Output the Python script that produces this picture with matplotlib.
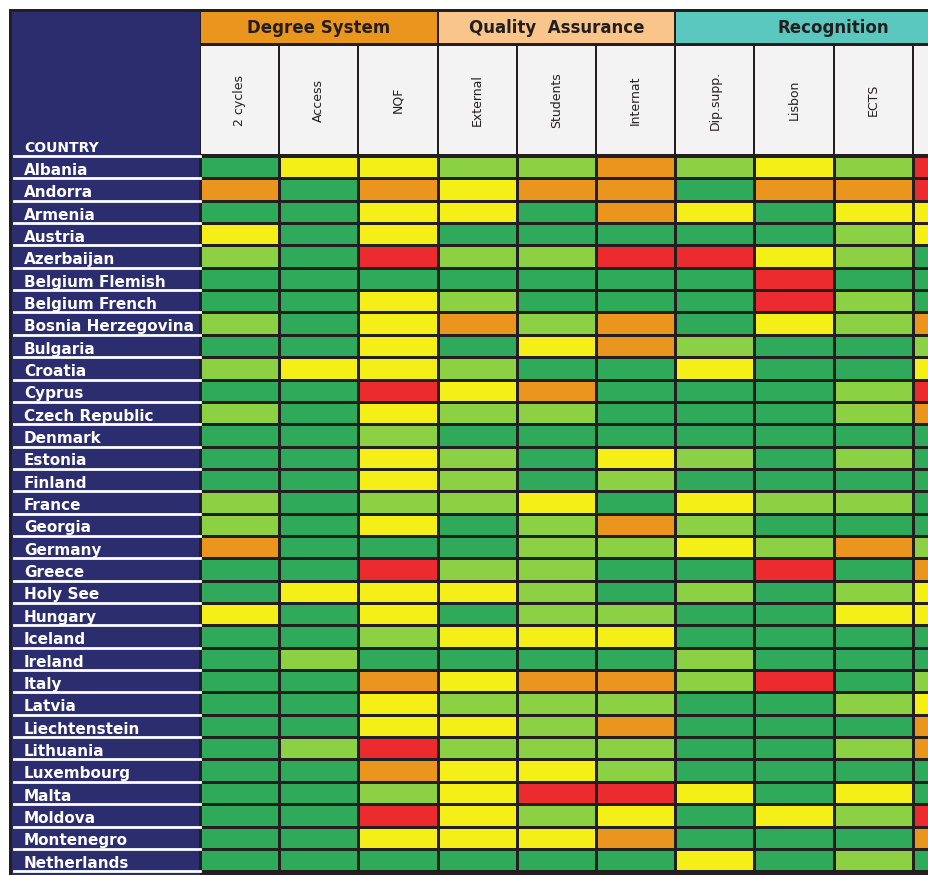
import numpy as np
import matplotlib.pyplot as plt
from matplotlib.colors import ListedColormap
from matplotlib.patches import Rectangle

# 1 dark green, 2 light green, 3 yellow, 4 orange, 5 red
countries = ["Albania", "Andorra", "Armenia", "Austria", "Azerbaijan", "Belgium Flemish",
             "Belgium French", "Bosnia Herzegovina", "Bulgaria", "Croatia", "Cyprus",
             "Czech Republic", "Denmark", "Estonia", "Finland", "France", "Georgia",
             "Germany", "Greece", "Holy See", "Hungary", "Iceland", "Ireland", "Italy",
             "Latvia", "Liechtenstein", "Lithuania", "Luxembourg", "Malta", "Moldova",
             "Montenegro", "Netherlands"]
columns = ["2 cycles", "Access", "NQF", "External", "Students", "Internat",
           "Dip.supp.", "Lisbon", "ECTS", ""]
groups = ["Degree System", "Quality  Assurance", "Recognition"]
group_span = [3, 3, 4]
group_colors = ["#ea961e", "#f9c58a", "#5bc8c0"]

scores = [
    [1, 3, 3, 2, 2, 4, 2, 3, 2, 5],
    [4, 1, 4, 3, 4, 4, 1, 4, 4, 5],
    [1, 1, 3, 3, 1, 4, 3, 1, 3, 3],
    [3, 1, 3, 1, 1, 1, 1, 1, 2, 3],
    [2, 1, 5, 2, 2, 5, 5, 3, 2, 1],
    [1, 1, 1, 1, 1, 1, 1, 5, 1, 1],
    [1, 1, 3, 2, 1, 1, 1, 5, 2, 1],
    [2, 1, 3, 4, 2, 4, 1, 3, 2, 4],
    [1, 1, 3, 1, 3, 4, 2, 1, 1, 2],
    [2, 3, 3, 2, 1, 1, 3, 1, 1, 3],
    [1, 1, 5, 3, 4, 1, 1, 1, 2, 5],
    [2, 1, 3, 2, 2, 1, 1, 1, 2, 4],
    [1, 1, 2, 1, 1, 1, 1, 1, 1, 1],
    [1, 1, 3, 2, 1, 3, 2, 1, 2, 1],
    [1, 1, 3, 2, 1, 2, 1, 1, 1, 1],
    [2, 1, 2, 2, 3, 1, 3, 2, 2, 1],
    [2, 1, 3, 1, 2, 4, 2, 1, 1, 1],
    [4, 1, 1, 1, 2, 2, 3, 2, 4, 2],
    [1, 1, 5, 2, 2, 1, 1, 5, 1, 4],
    [1, 3, 3, 3, 2, 1, 2, 1, 2, 3],
    [3, 1, 3, 1, 2, 2, 1, 1, 3, 3],
    [1, 1, 2, 3, 3, 3, 1, 1, 1, 1],
    [1, 2, 1, 1, 1, 1, 2, 1, 1, 1],
    [1, 1, 4, 3, 4, 4, 2, 5, 1, 2],
    [1, 1, 3, 2, 2, 2, 1, 1, 2, 3],
    [1, 1, 3, 3, 2, 4, 1, 1, 1, 4],
    [1, 2, 5, 2, 2, 2, 1, 1, 2, 4],
    [1, 1, 4, 3, 3, 2, 1, 1, 1, 1],
    [1, 1, 2, 3, 5, 5, 3, 1, 3, 1],
    [1, 1, 5, 3, 2, 3, 1, 3, 2, 5],
    [1, 1, 3, 3, 3, 4, 1, 1, 1, 4],
    [1, 1, 1, 1, 1, 1, 3, 1, 2, 1],
]

navy = "#2b2d6e"
cmap = ListedColormap(["#2eaa5a", "#8cd043", "#f4ef16", "#ea961e", "#ec2b2e"])

fig = plt.figure(figsize=(9.29, 8.75), dpi=100)
ax = fig.add_axes([0, 0, 1, 1])
ax.set_xlim(0, 929)
ax.set_ylim(875, 0)
ax.axis("off")

x0, cw = 200, 79.2
y0, rh = 156, 22.35
nrow, ncol = len(countries), len(columns)

# outer frame + left navy column
ax.add_patch(Rectangle((9, 9), 930, 900, fc="#231f20", ec="none", zorder=0))
ax.add_patch(Rectangle((12, 12), x0 - 12, 880, fc=navy, ec="none", zorder=1))

# group header
gx = x0
for g, span, c in zip(groups, group_span, group_colors):
    ax.add_patch(Rectangle((gx + 1, 12), span * cw - 2, 31, fc=c, ec="none", zorder=1))
    ax.text(gx + span * cw / 2, 28, g, ha="center", va="center", fontsize=12,
            fontweight="bold", color="#231f20", zorder=3)
    gx += span * cw

# column label cells
for j, name in enumerate(columns):
    ax.add_patch(Rectangle((x0 + j * cw + 1, 46), cw - 2, y0 - 48, fc="#f3f3f3",
                           ec="none", zorder=1))
    ax.text(x0 + j * cw + cw / 2, 100, name, rotation=90, ha="center", va="center",
            fontsize=9, color="#231f20", zorder=3)

# grid
xe = x0 + cw * np.arange(ncol + 1)
ye = y0 + rh * np.arange(nrow + 1)
ax.pcolormesh(xe, ye, np.array(scores), cmap=cmap, vmin=0.5, vmax=5.5,
              edgecolors="#231f20", linewidth=2, zorder=2)

# country labels
ax.text(24, y0 - 1, "COUNTRY", ha="left", va="bottom", fontsize=10, fontweight="bold",
        color="white", family="Liberation Sans Narrow", zorder=3)
ax.plot([14, x0], [y0, y0], color="white", lw=2, zorder=3)
for i, c in enumerate(countries):
    yb = y0 + (i + 1) * rh
    ax.text(24, yb - 0.5, c, ha="left", va="bottom", fontsize=11, fontweight="bold",
            color="white", family="Liberation Sans Narrow", zorder=3)
    ax.plot([14, x0], [yb, yb], color="white", lw=2, zorder=3)

fig.savefig("out.png", dpi=100)
